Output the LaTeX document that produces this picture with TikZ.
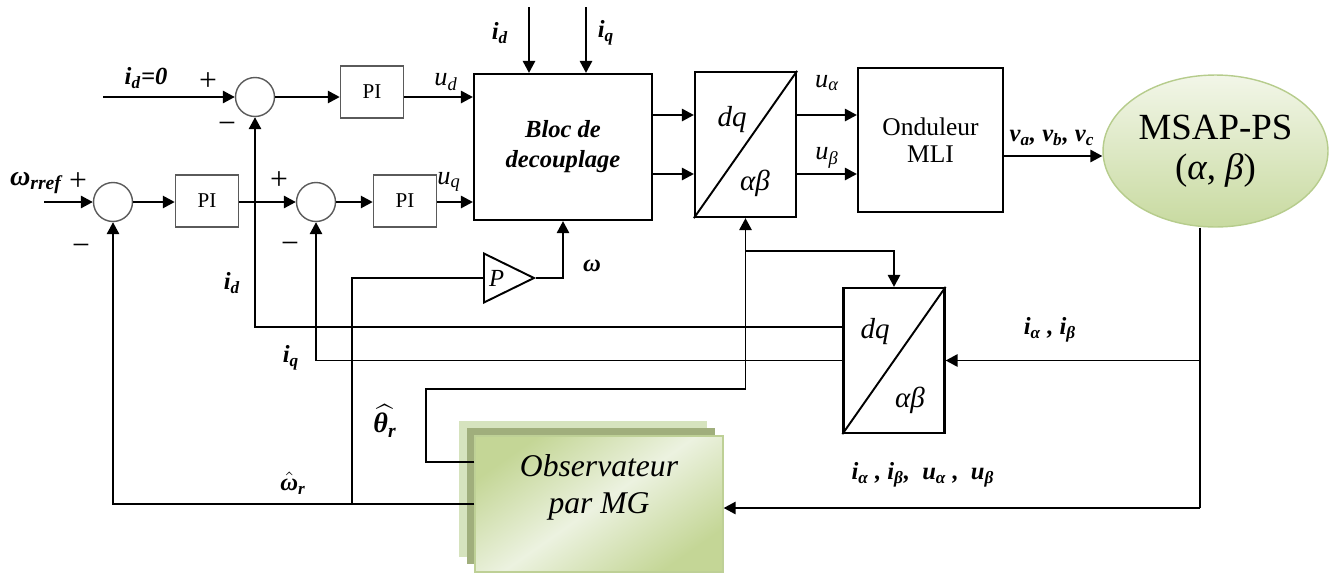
\documentclass[tikz,border=0pt]{standalone}
\usepackage{fontspec}
\setmainfont{Liberation Serif}
\usepackage{amsmath}
\usetikzlibrary{arrows.meta,shapes.geometric,shadows}
\definecolor{msapLight}{RGB}{242,246,232}
\definecolor{msapDark}{RGB}{200,218,160}
\definecolor{msapEdge}{RGB}{182,204,140}
\definecolor{obsLight}{RGB}{236,242,224}
\definecolor{obsDark}{RGB}{196,214,150}
\definecolor{obsEdge}{RGB}{190,208,150}
\definecolor{obsBack}{RGB}{214,227,190}
\definecolor{obsMid}{RGB}{160,174,124}
\definecolor{sumGray}{RGB}{90,90,90}
\begin{document}
\begin{tikzpicture}[x=0.02cm, y=-0.02cm, line width=1.1pt, >={Triangle[length=6.8pt,width=7pt]},
  sumnode/.style={circle, draw=sumGray, line width=0.8pt, minimum size=0.78cm, inner sep=0pt},
  piblock/.style={draw=sumGray, line width=0.9pt, minimum width=1.26cm, minimum height=1.04cm, inner sep=0pt, font=\fontsize{12}{14}\selectfont},
  convblock/.style={draw, line width=1.3pt, minimum width=2.02cm, minimum height=2.9cm, inner sep=0pt},
  convtext/.style={font=\fontsize{16.5}{18}\selectfont\itshape, inner sep=0pt},
  sig/.style={font=\fontsize{14}{16}\selectfont\bfseries\itshape, inner sep=1pt},
  sigu/.style={font=\fontsize{15}{16}\selectfont\itshape, inner sep=1pt},
  pmsign/.style={font=\fontsize{18}{18}\selectfont, inner sep=0pt}]

\useasboundingbox (0,0) rectangle (1334,572);

% comparators and correctors
\node[sumnode] (s1) at (255,97) {};
\node[sumnode] (s2) at (113,202) {};
\node[sumnode] (s3) at (316,202) {};
\node[piblock] (pi1) at (372,92) {PI};
\node[piblock] (pi2) at (207,201) {PI};
\node[piblock] (pi3) at (405,201) {PI};

% main blocks
\node[draw, line width=1.3pt, minimum width=3.56cm, minimum height=2.92cm, align=center, font=\fontsize{14}{17}\selectfont\bfseries\itshape] (bloc) at (563,147) {Bloc de\\decouplage};
\node[convblock] (dq1) at (745.5,144.5) {};
\node[convblock] (dq2) at (894,360.5) {};
\node[draw, line width=1.3pt, minimum width=2.9cm, minimum height=2.88cm, align=center, font=\fontsize{14.5}{15}\selectfont] (ond) at (930.5,140) {Onduleur\\MLI};
\node[ellipse, draw=msapEdge, line width=0.8pt, top color=msapLight, bottom color=msapDark, minimum width=4.5cm, minimum height=3.04cm, inner sep=0pt, align=center, font=\fontsize{21}{23}\selectfont] (msap) at (1215.5,151) {MSAP-PS\\(\textit{α}, \textit{β})};
\node[draw=obsEdge, line width=0.8pt, top color=obsDark, bottom color=obsDark, middle color=obsLight, shading angle=35, minimum width=4.96cm, minimum height=2.72cm, inner sep=0pt,
  general shadow={fill=obsBack, shadow xshift=-0.32cm, shadow yshift=0.30cm},
  general shadow={fill=obsMid, shadow xshift=-0.16cm, shadow yshift=0.16cm}] (obs) at (599,504) {};
\node[align=center, font=\fontsize{18}{21}\selectfont\itshape] (obslab) at (599,487) {Observateur\\par MG};
\node[isosceles triangle, isosceles triangle stretches, draw, line width=1.1pt, minimum width=0.98cm, minimum height=1cm, inner sep=1pt, anchor=lower side, font=\fontsize{14}{14}\selectfont\itshape] (gain) at (483,278) {P};

% block texts
\node[convtext] (dq1a) at (732,120) {dq};
\node[convtext] (dq1b) at (755,183) {αβ};
\node[convtext] (dq2a) at (875,332) {dq};
\node[convtext] (dq2b) at (910,400) {αβ};
\draw (dq1.south west) -- (dq1.north east);
\draw (dq2.south west) -- (dq2.north east);

% free ends and rows
\coordinate (idref) at (103,97);
\coordinate (wref) at (44,202);
\coordinate (idtop) at (529,7);
\coordinate (iqtop) at (586,7);
\coordinate (ra) at (0,115);
\coordinate (rb) at (0,174);
\coordinate (rv) at (0,156);
\coordinate (tap) at (1200,508);
\coordinate (rd) at (0,327);
\coordinate (rt) at (426,389);
\coordinate (rt2) at (0,462);
\coordinate (rbr) at (0,251);
\coordinate (wb) at (352,504);

% forward path
\draw[->] (idref) -- (s1.west);
\draw[->] (s1.east) -- (pi1.west |- s1.east);
\draw[->] (pi1.east |- s1.east) -- (bloc.west |- s1.east);
\draw[->] (wref) -- (s2.west);
\draw[->] (s2.east) -- (pi2.west |- s2.east);
\draw[->] (pi2.east |- s2.east) -- (s3.west);
\draw[->] (s3.east) -- (pi3.west |- s3.east);
\draw[->] (pi3.east |- s3.east) -- (bloc.west |- s3.east);
\draw[->] (idtop) -- (bloc.north -| idtop);
\draw[->] (iqtop) -- (bloc.north -| iqtop);
\draw[->] (bloc.east |- ra) -- (dq1.west |- ra);
\draw[->] (bloc.east |- rb) -- (dq1.west |- rb);
\draw[->] (dq1.east |- ra) -- (ond.west |- ra);
\draw[->] (dq1.east |- rb) -- (ond.west |- rb);
\draw[->] (ond.east |- rv) -- (msap.west |- rv);

% measures and feedback
\draw (msap.south -| tap) -- (tap);
\draw[->] (tap |- dq2.east) -- (dq2.east);
\draw[->] (tap) -- (obs.east |- tap);
\draw[->] (dq2.west |- rd) -| (s1.south);
\draw[->] (dq2.west) -| (s3.south);
\draw[->] (obs.west |- rt2) -| (rt) -| (dq1.south);
\draw[->] (dq1.south |- rbr) -| (dq2.north);
\draw[->] (obs.west) -| (s2.south);
\draw (wb) |- (gain.lower side);
\draw[->] (gain.apex) -| (bloc.south);

% signs
\node[pmsign] (p1) at (208,82) {+};
\node[pmsign] (m1) at (227,128) {−};
\node[pmsign] (p2) at (78,182) {+};
\node[pmsign] (m2) at (81,250) {−};
\node[pmsign] (p3) at (279,181) {+};
\node[pmsign] (m3) at (290,248) {−};

% signal labels
\node[sig] (lidref) at (146,78) {i\textsubscript{d}=0};
\node[sig, font=\fontsize{16}{18}\selectfont\bfseries\itshape] (lwref) at (36,183) {ω\textsubscript{rref}};
\node[sigu] (lud) at (446,82) {u\textsubscript{d}};
\node[sigu] (luq) at (449,182) {u\textsubscript{q}};
\node[sig] (lidt) at (500,33) {i\textsubscript{d}};
\node[sig] (liqt) at (606,33) {i\textsubscript{q}};
\node[sigu] (lua) at (827,83) {u\textsubscript{α}};
\node[sigu] (lub) at (827,158) {u\textsubscript{β}};
\node[sig] (lv) at (1052,138) {v\textsubscript{a}, v\textsubscript{b}, v\textsubscript{c}};
\node[sig] (liab) at (1050,330) {i\textsubscript{α} , i\textsubscript{β}};
\node[sig] (liabu) at (923,475) {i\textsubscript{α} , i\textsubscript{β},\ \ u\textsubscript{α} ,\ \ u\textsubscript{β}};
\node[sig] (lidf) at (232,283) {i\textsubscript{d}};
\node[sig] (liqf) at (291,358) {i\textsubscript{q}};
\node[sig, font=\fontsize{16}{18}\selectfont\bfseries\itshape] (lth) at (385,421) {$\widehat{\text{θ\textsubscript{r}}}$};
\node[sig] (lwh) at (293,483) {$\hat{\text{ω}}$\textsubscript{r}};
\node[sig] (lw) at (592,266) {ω};
\end{tikzpicture}
\end{document}
